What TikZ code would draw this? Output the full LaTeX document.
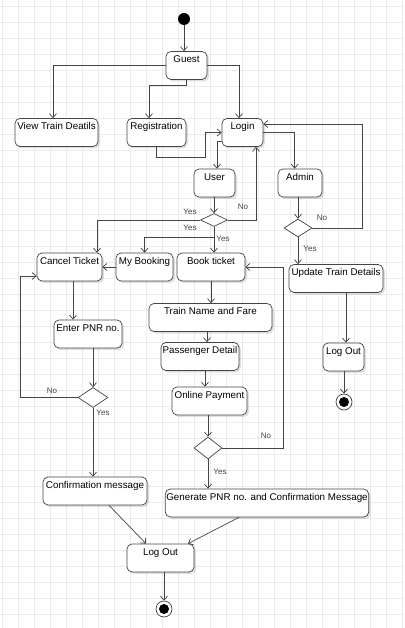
\documentclass[tikz,border=0pt]{standalone}
\usepackage{fontspec}
\setmainfont{Liberation Sans}
\usetikzlibrary{arrows.meta, calc, shapes.geometric, shadows}

\definecolor{lineclr}{HTML}{444444}
\definecolor{gridclr}{HTML}{EBEBEB}

\tikzset{
	act/.style={draw=lineclr, line width=0.7pt, rounded corners=5pt, fill=white, font=\fontsize{9.8}{11}\selectfont, inner xsep=1pt, inner ysep=0pt, text height=11.4pt, text depth=16.6pt, drop shadow={shadow xshift=2pt, shadow yshift=-2pt, opacity=0.12, fill=black}},
	dec/.style={diamond, draw=lineclr, line width=0.7pt, fill=white, inner sep=0pt},
	flow/.style={draw=lineclr, line width=0.7pt, -{Straight Barb[length=4pt,width=7pt]}},
	guard/.style={font=\fontsize{8}{9}\selectfont, text=lineclr, inner sep=0pt},
	gridline/.style={draw=gridclr, line width=0.8pt},
	startnode/.style={circle, fill=black, minimum size=12pt, inner sep=0pt},
	endnode/.style={circle, draw=lineclr, line width=0.7pt, fill=white, minimum size=16pt, inner sep=0pt, path picture={\fill[black] (path picture bounding box.center) circle (5pt);}},
}

\begin{document}
\begin{tikzpicture}[x=1pt, y=-1pt]
		\useasboundingbox[fill=white] (0,0) rectangle (404,628);
		% background grid
		\foreach \gx in {0,...,25} \draw[gridline] (2.7+16*\gx,0) -- (2.7+16*\gx,628);
		\foreach \gy in {0,...,38} \draw[gridline] (0,6.7+16*\gy) -- (404,6.7+16*\gy);

		% top part
		\node[startnode] (start) at (184,19) {};
		\node[act, minimum width=41pt] (guest) at (186.5,65.5) {Guest};
		\node[act, minimum width=83pt] (view) at (56.5,132.5) {View Train Deatils};
		\node[act, minimum width=59pt] (reg) at (156.5,132.5) {Registration};
		\node[act, minimum width=41pt] (login) at (242.5,132.5) {Login};
		\node[act, minimum width=41pt] (user) at (214.5,183) {User};
		\node[act, minimum width=44pt] (admin) at (300,183) {Admin};
		\node[dec, minimum width=27pt, minimum height=13pt] (d1) at (214,220) {};
		\node[dec, minimum width=28pt, minimum height=18pt] (d2) at (298,228) {};

		% user side
		\node[act, minimum width=65pt] (cancel) at (69.5,267) {Cancel Ticket};
		\node[act, minimum width=57pt] (mybook) at (144.5,267) {My Booking};
		\node[act, minimum width=68pt] (book) at (211,267) {Book ticket};
		\node[act, minimum width=68pt] (pnr) at (88,334) {Enter PNR no.};
		\node[dec, minimum width=30pt, minimum height=20pt] (d3) at (93,397.5) {};
		\node[act, minimum width=104pt] (confirm) at (95,491) {Confirmation message};
		\node[act, minimum width=123pt] (train) at (210.5,317.5) {Train Name and Fare};
		\node[act, minimum width=78pt] (pass) at (200,356.5) {Passenger Detail};
		\node[act, minimum width=75pt] (pay) at (209.5,401) {Online Payment};
		\node[dec, minimum width=28pt, minimum height=22pt] (d4) at (208,448) {};
		\node[act, minimum width=202pt] (gen) at (267,503) {Generate PNR no. and Confirmation Message};
		\node[act, minimum width=67pt] (logout1) at (160.5,558) {Log Out};
		\node[endnode] (end1) at (164,609) {};

		% admin side
		\node[act, minimum width=94pt] (update) at (336,278.5) {Update Train Details};
		\node[act, minimum width=41pt] (logout2) at (343.5,357) {Log Out};
		\node[endnode] (end2) at (344,402) {};

		% connectors
		\draw[flow] (start) -- (start |- guest.north);
		\draw[flow] (guest.west) -| ([xshift=-3.5pt]view.north);
		\draw[flow] (guest.south) -- ++(0,6) -| ([xshift=-7.5pt]reg.north);
		\draw[flow] (guest.east) -| ([xshift=-3.5pt]login.north);
		\draw[flow] (reg.south) -- ++(0,11) -| ($(login.west)+(-16,0)$) -- (login.west);
		\draw[flow] ([yshift=-8.5pt]login.west) -| ([xshift=2.5pt]user.north);
		\draw[flow] (login.east) -| ([xshift=-5.3pt]admin.north);
		\draw[flow] (user.south -| d1) -- (d1.north);
		\draw[flow] (d1.west) -| ([xshift=27.5pt]cancel.north);
		\draw[flow] (d1.east) -| ([xshift=13.5pt]login.south);
		\draw[flow] (d1.south) -- (d1.south |- book.north);
		\draw[flow] (d1.south) -- ++(0,10) -| (mybook.north);
		\draw[flow] (mybook.west) -- (cancel.east);
		\draw[flow] (admin.south -| d2) -- (d2.north);
		\draw[flow] (d2.east) -- ++(50,0) |- ([yshift=8.5pt]login.east);
		\draw[flow] (d2.south) -- (d2.south |- update.north);
		\draw[flow] ([xshift=10pt]update.south) -- ([xshift=10pt]update.south |- logout2.north);
		\draw[flow] (logout2.south -| end2) -- (end2.north);
		\draw[flow] ([xshift=3.5pt]cancel.south) -- ([xshift=3.5pt]cancel.south |- pnr.north);
		\draw[flow] (pnr.south -| d3) -- (d3.north);
		\draw[flow] (d3.west) -- ++(-57,0) |- ([yshift=-9pt]cancel.west);
		\draw[flow] (d3.south) -- (d3.south |- confirm.north);
		\draw[flow] (book.south) -- (book.south |- train.north);
		\draw[flow] ([xshift=7pt]pass.north |- train.south) -- ([xshift=7pt]pass.north);
		\draw[flow] ([xshift=5pt]pass.south) -- ([xshift=5pt]pass.south |- pay.north);
		\draw[flow] (pay.south -| d4) -- (d4.north);
		\draw[flow] (d4.east) -- ++(61,0) |- (book.east);
		\draw[flow] (d4.south) -- (d4.south |- gen.north);
		\draw[flow] ([xshift=14pt]confirm.south) -- ([xshift=-14.5pt]logout1.north);
		\draw[flow] ([xshift=-28pt]gen.south) -- ([xshift=27.5pt]logout1.north);
		\draw[flow] (logout1.south -| end1) -- (end1.north);

		% guards
		\node[guard] (g1) at (190,212) {Yes};
		\node[guard] (g2) at (243,207) {No};
		\node[guard] (g3) at (190,228) {Yes};
		\node[guard] (g4) at (223,239) {Yes};
		\node[guard] (g5) at (322,218) {No};
		\node[guard] (g6) at (310,249) {Yes};
		\node[guard] (g7) at (52,391) {No};
		\node[guard] (g8) at (103,413) {Yes};
		\node[guard] (g9) at (266,436) {No};
		\node[guard] (g10) at (220,472) {Yes};
	\end{tikzpicture}
\end{document}
